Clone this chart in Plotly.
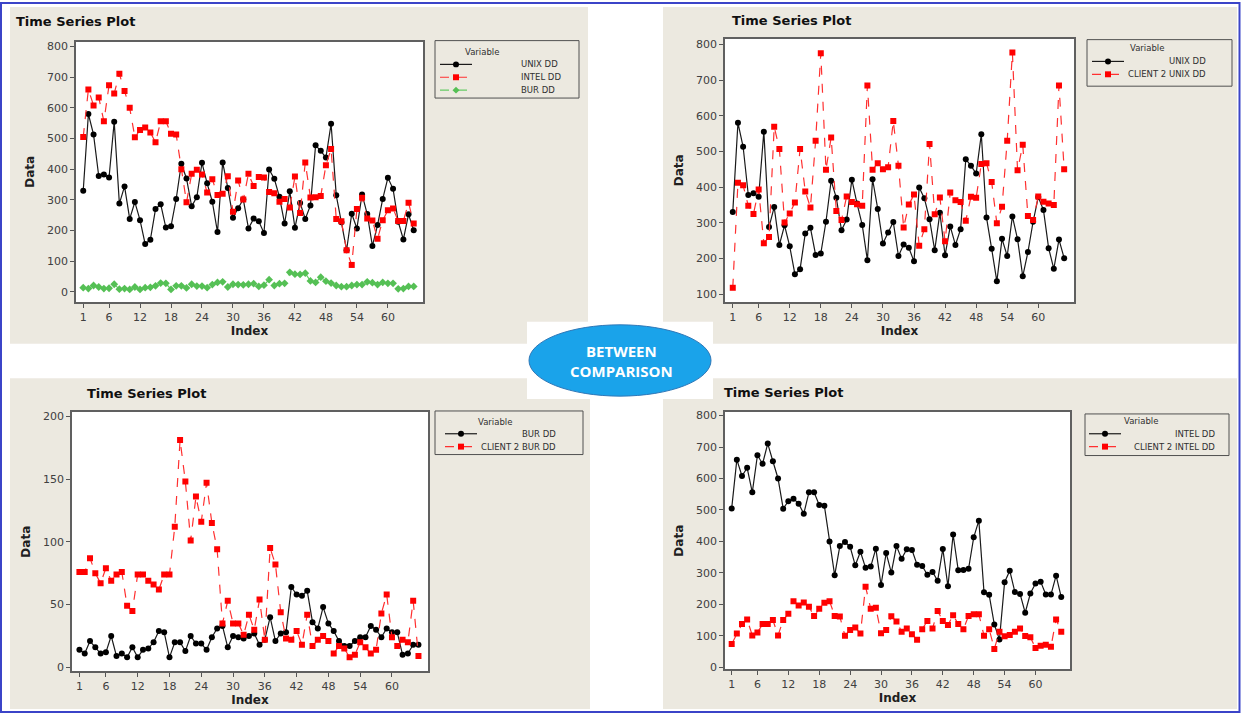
import plotly.graph_objects as go

W, H = 1241, 719

index = list(range(1, 66))
x_ticks = [1, 6, 12, 18, 24, 30, 36, 42, 48, 54, 60]

unix_dd = [330, 580, 513, 378, 383, 373, 555, 288, 344, 238,
           293, 234, 156, 170, 270, 286, 210, 214, 303, 418,
           370, 279, 309, 421, 354, 294, 195, 422, 339, 242,
           273, 302, 207, 239, 230, 192, 399, 369, 310, 223,
           328, 209, 290, 238, 282, 478, 460, 438, 548, 315,
           227, 136, 255, 207, 318, 254, 150, 218, 303, 372,
           336, 229, 171, 253, 201]
intel_dd = [505, 660, 608, 634, 556, 674, 647, 711, 655, 600,
            504, 528, 536, 520, 488, 556, 556, 516, 513, 400,
            292, 385, 398, 383, 324, 367, 316, 320, 377, 261,
            363, 301, 385, 345, 375, 373, 326, 322, 294, 303,
            275, 376, 257, 422, 308, 309, 313, 413, 466, 238,
            230, 136, 88, 270, 307, 239, 233, 173, 234, 266,
            272, 231, 231, 291, 223]
bur_dd = [14, 11, 21, 16, 11, 12, 25, 9, 11, 8,
          16, 8, 14, 15, 20, 29, 28, 8, 20, 20,
          13, 25, 19, 19, 14, 24, 31, 33, 16, 25,
          24, 23, 25, 27, 18, 22, 40, 21, 27, 28,
          64, 58, 57, 61, 36, 31, 48, 35, 29, 21,
          17, 17, 21, 24, 24, 33, 30, 24, 31, 28,
          28, 10, 11, 18, 18]
client2_unix = [118, 412, 405, 348, 325, 393, 243, 260, 569, 507,
                301, 326, 357, 507, 388, 343, 530, 775, 449, 539,
                333, 308, 374, 358, 352, 348, 685, 449, 467, 450,
                456, 585, 460, 287, 351, 379, 236, 282, 521, 324,
                371, 248, 385, 363, 358, 306, 373, 370, 465, 467,
                414, 299, 345, 530, 777, 447, 519, 319, 308, 374,
                359, 354, 350, 685, 450]
client2_bur = [76, 76, 87, 75, 67, 79, 69, 74, 76, 49,
               45, 74, 74, 69, 66, 62, 74, 74, 112, 181,
               148, 101, 136, 116, 147, 115, 94, 35, 53, 35,
               35, 26, 42, 30, 54, 22, 95, 82, 44, 23,
               22, 29, 18, 42, 17, 22, 25, 21, 11, 17,
               15, 8, 10, 20, 16, 11, 14, 43, 58, 24,
               17, 22, 20, 53, 9]
client2_intel = [74, 107, 137, 152, 101, 110, 137, 137, 150, 101,
                 150, 170, 210, 196, 206, 192, 163, 186, 205, 210,
                 163, 161, 100, 118, 126, 107, 256, 186, 189, 108,
                 118, 162, 145, 113, 123, 105, 87, 121, 147, 123,
                 179, 147, 134, 165, 137, 121, 163, 168, 168, 100,
                 121, 58, 113, 98, 102, 113, 123, 99, 95, 61,
                 68, 71, 65, 152, 113]


def px(x):
    return x / W


def py(y):
    return 1 - y / H


COLORS = {"black": ("#1a1a1a", "#000000", "solid", "circle"),
          "red": ("#ff3030", "#ff0000", "dash", "square"),
          "green": ("#66cc66", "#55c055", "dash", "diamond")}


def style(name):
    lc, mc, dash, sym = COLORS[name]
    return dict(line=dict(color=lc, width=1.2, dash=dash),
                marker=dict(symbol=sym, size=6, color=mc))


fig = go.Figure()


def add(y, name, sty, n):
    fig.add_trace(go.Scatter(
        x=index, y=y, name=name, mode="lines+markers", showlegend=False,
        xaxis="x" if n == 1 else f"x{n}", yaxis="y" if n == 1 else f"y{n}",
        **style(sty)))


add(unix_dd, "UNIX DD", "black", 1)
add(intel_dd, "INTEL DD", "red", 1)
add(bur_dd, "BUR DD", "green", 1)
add(unix_dd, "UNIX DD", "black", 2)
add(client2_unix, "CLIENT 2 UNIX DD", "red", 2)
add(bur_dd, "BUR DD", "black", 3)
add(client2_bur, "CLIENT 2 BUR DD", "red", 3)
add(intel_dd, "INTEL DD", "black", 4)
add(client2_intel, "CLIENT 2 INTEL DD", "red", 4)

tick_font = dict(family="DejaVu Sans", size=11, color="#404040")
title_font = dict(family="DejaVu Sans", size=12, color="#202020")

panels = [
    # (plot px box x0,y0,x1,y1), xrange, yrange, ytickvals
    ((76, 40, 423, 303), [-0.4, 66.8], [-33, 816], list(range(0, 801, 100))),
    ((725, 37, 1074, 303), [-0.5, 66.9], [78, 816], list(range(100, 801, 100))),
    ((72, 414, 428, 676), [-0.4, 66.8], [-3.2, 203.4], list(range(0, 201, 50))),
    ((725, 414, 1070, 674), [-0.3, 66.7], [-7.2, 811.6], list(range(0, 801, 100))),
]

layout = dict(
    width=W, height=H, margin=dict(l=0, r=0, t=0, b=0),
    paper_bgcolor="white", plot_bgcolor="white",
    font=dict(family="DejaVu Sans", color="#303030"),
)

for i, (box, xr, yr, yt) in enumerate(panels, start=1):
    x0, y0, x1, y1 = box
    sx = "" if i == 1 else str(i)
    layout[f"xaxis{sx}"] = dict(
        domain=[px(x0), px(x1)], range=xr, anchor=f"y{sx}",
        tickvals=x_ticks, ticks="outside", ticklen=4, tickcolor="#555",
        showline=True, linecolor="#606060", linewidth=1.5, mirror=True,
        showgrid=False, zeroline=False, tickfont=tick_font,
        title=dict(text="<b>Index</b>", font=title_font, standoff=2),
    )
    layout[f"yaxis{sx}"] = dict(
        domain=[py(y1), py(y0)], range=yr, anchor=f"x{sx}",
        tickvals=yt, ticks="outside", ticklen=4, tickcolor="#555",
        showline=True, linecolor="#606060", linewidth=1.5, mirror=True,
        showgrid=False, zeroline=False, tickfont=tick_font,
        title=dict(text="<b>Data</b>", font=title_font, standoff=10),
    )

beige = "#ECE9E0"
shapes = []
annotations = []
for (a, b, c, d) in [(10, 5, 588, 345), (663, 5, 1237, 345),
                     (10, 380, 590, 714), (663, 380, 1237, 714)]:
    shapes.append(dict(type="rect", xref="paper", yref="paper",
                       x0=px(a), x1=px(c), y0=py(d), y1=py(b),
                       fillcolor=beige, line=dict(width=0), layer="below"))
# white plot areas
for (box, _, _, _) in panels:
    a, b, c, d = box
    shapes.append(dict(type="rect", xref="paper", yref="paper",
                       x0=px(a), x1=px(c), y0=py(d), y1=py(b),
                       fillcolor="white", line=dict(width=0), layer="below"))

# ---- legends (drawn as boxes with sample symbols) ----
legend_font = dict(family="DejaVu Sans", size=8.5, color="#303030")
legends = [
    ((435, 39, 579, 97), 482, 50, [("UNIX DD", "black"), ("INTEL DD", "red"), ("BUR DD", "green")],
     [63, 76, 89], 440, 472, 519, "left"),
    ((1087, 38, 1232, 85), 1147, 46, [("UNIX DD", "black"), ("CLIENT 2 UNIX DD", "red")],
     [60, 73], 1092, 1124, 1208, "right"),
    ((435, 413, 583, 457), 495, 424, [("BUR DD", "black"), ("CLIENT 2 BUR DD", "red")],
     [436, 449], 445, 477, 558, "right"),
    ((1085, 416, 1229, 458), 1141, 423, [("INTEL DD", "black"), ("CLIENT 2 INTEL DD", "red")],
     [436, 449], 1089, 1121, 1217, "right"),
]
for (box, tx, ty, entries, ys, lx0, lx1, textx, align) in legends:
    a, b, c, d = box
    shapes.append(dict(type="rect", xref="paper", yref="paper",
                       x0=px(a), x1=px(c), y0=py(d), y1=py(b),
                       fillcolor="rgba(0,0,0,0)", line=dict(color="#505050", width=1)))
    annotations.append(dict(text="Variable", xref="paper", yref="paper",
                            x=px(tx), y=py(ty), xanchor="center", yanchor="middle",
                            showarrow=False, font=legend_font))
    for (name, sty), yy in zip(entries, ys):
        lc, mc, dash, sym = COLORS[sty]
        shapes.append(dict(type="line", xref="paper", yref="paper",
                           x0=px(lx0), x1=px(lx1), y0=py(yy), y1=py(yy),
                           line=dict(color=lc, width=1.2, dash=dash)))
        cx = (lx0 + lx1) / 2
        r = 3
        if sym == "circle":
            shapes.append(dict(type="circle", xref="paper", yref="paper",
                               x0=px(cx - r), x1=px(cx + r), y0=py(yy + r), y1=py(yy - r),
                               fillcolor=mc, line=dict(width=0)))
        elif sym == "square":
            shapes.append(dict(type="rect", xref="paper", yref="paper",
                               x0=px(cx - r), x1=px(cx + r), y0=py(yy + r), y1=py(yy - r),
                               fillcolor=mc, line=dict(width=0)))
        else:
            path = (f"M {px(cx)},{py(yy - r - 0.5)} L {px(cx + r + 0.5)},{py(yy)} "
                    f"L {px(cx)},{py(yy + r + 0.5)} L {px(cx - r - 0.5)},{py(yy)} Z")
            shapes.append(dict(type="path", xref="paper", yref="paper", path=path,
                               fillcolor=mc, line=dict(width=0)))
        annotations.append(dict(text=name, xref="paper", yref="paper",
                                x=px(textx), y=py(yy), xanchor=align, yanchor="middle",
                                showarrow=False, font=legend_font))

# white box behind the ellipse
shapes.append(dict(type="rect", xref="paper", yref="paper",
                   x0=px(527), x1=px(713), y0=py(401), y1=py(323),
                   fillcolor="white", line=dict(width=0), layer="above"))
shapes.append(dict(type="circle", xref="paper", yref="paper",
                   x0=px(529), x1=px(711), y0=py(398), y1=py(326),
                   fillcolor="#1AA3EA", line=dict(color="#2F78B8", width=1),
                   layer="above"))
# outer blue border
shapes.append(dict(type="rect", xref="paper", yref="paper",
                   x0=px(1), x1=px(1239.5), y0=py(717), y1=py(1),
                   fillcolor="rgba(0,0,0,0)", line=dict(color="#3B44C8", width=2),
                   layer="above"))
layout["shapes"] = shapes

for (tx, ty) in [(14, 20), (730, 19), (85, 395), (722, 394)]:
    annotations.append(dict(text="<b>Time Series Plot</b>", xref="paper", yref="paper",
                            x=px(tx), y=py(ty), xanchor="left", yanchor="middle",
                            showarrow=False,
                            font=dict(family="DejaVu Sans", size=13, color="#101010")))
annotations.append(dict(text="<b>BETWEEN<br>COMPARISON</b>", xref="paper", yref="paper",
                        x=px(621), y=py(363), xanchor="center", yanchor="middle",
                        showarrow=False,
                        font=dict(family="Open Sans", size=15, color="white")))
layout["annotations"] = annotations

fig.update_layout(**layout)
fig.write_html("out.html", config={"displayModeBar": False},
               post_script="document.body.style.margin='0';document.body.style.overflow='hidden';")
